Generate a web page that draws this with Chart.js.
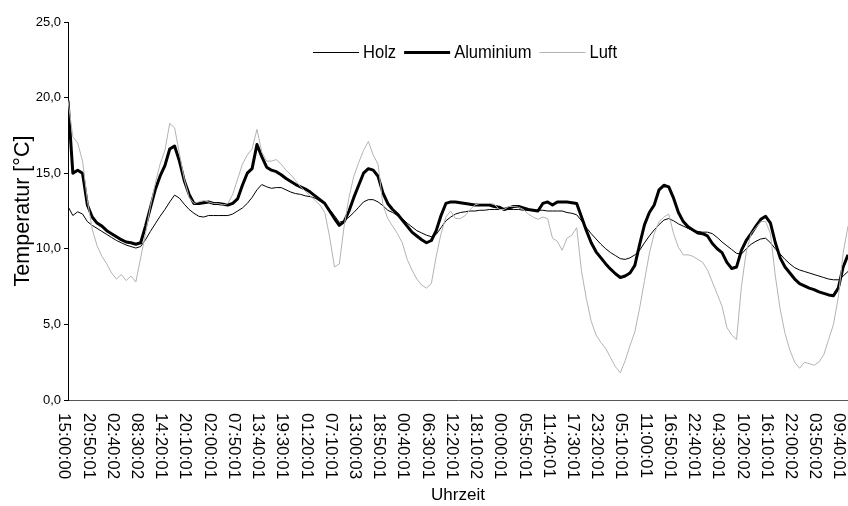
<!DOCTYPE html>
<html>
<head>
<meta charset="utf-8">
<script src="https://cdn.jsdelivr.net/npm/chart.js@4"></script>
<style>
  html, body { margin: 0; padding: 0; background: #fff; }
  #wrap { width: 848px; height: 506px; position: relative; }
</style>
</head>
<body>
<div id="wrap"><canvas id="chart"></canvas></div>
<script>
// ============================================================
// Temperaturverlauf Holz / Aluminium / Luft
// ============================================================

// Time labels under the axis (one every 5 samples, 5h50 apart)
const timeLabels = [
  "15:00:00", "20:50:01", "02:40:02", "08:30:02", "14:20:01", "20:10:01",
  "02:00:01", "07:50:01", "13:40:01", "19:30:01", "01:20:01", "07:10:01",
  "13:00:03", "18:50:01", "00:40:01", "06:30:01", "12:20:01", "18:10:02",
  "00:00:01", "05:50:01", "11:40:01", "17:30:01", "23:20:01", "05:10:01",
  "11:00:01", "16:50:01", "22:40:01", "04:30:01", "10:20:02", "16:10:01",
  "22:00:02", "03:50:02", "09:40:01"
];
const samplesPerLabel = 5;

// y axis
const yMin = 0;
const yMax = 25;
const yStep = 5;

// Series values (°C), one sample every 70 minutes
const holz = [
  12.8, 12.2, 12.45, 12.3, 11.8, 11.55, 11.35, 11.15, 10.95, 10.75,
  10.55, 10.4, 10.25, 10.15, 10.05, 10.15, 10.6, 11.15, 11.65, 12.15,
  12.6, 13.1, 13.55, 13.35, 12.95, 12.6, 12.35, 12.15, 12.1, 12.2,
  12.2, 12.2, 12.2, 12.2, 12.3, 12.5, 12.7, 13.0, 13.4, 13.9,
  14.25, 14.1, 14.0, 14.05, 14.05, 13.9, 13.75, 13.65, 13.6, 13.5,
  13.45, 13.35, 13.15, 12.95, 12.6, 12.2, 11.75, 11.85, 12.1, 12.4,
  12.75, 13.1, 13.25, 13.25, 13.1, 12.85, 12.55, 12.4, 12.2, 12.0,
  11.7, 11.45, 11.2, 11.05, 10.9, 10.8, 10.95, 11.4, 11.85, 12.1,
  12.3, 12.4, 12.45, 12.5, 12.5, 12.55, 12.55, 12.6, 12.6, 12.6,
  12.6, 12.6, 12.6, 12.6, 12.55, 12.55, 12.55, 12.55, 12.55, 12.5,
  12.5, 12.5, 12.5, 12.4, 12.35, 12.25, 11.85, 11.4, 11.0, 10.65,
  10.3, 10.0, 9.75, 9.55, 9.35, 9.3, 9.4, 9.6, 9.9, 10.4,
  10.85, 11.25, 11.6, 11.9, 12.0, 11.85, 11.65, 11.5, 11.35, 11.2,
  11.15, 11.1, 11.1, 11.0, 10.75, 10.45, 10.2, 9.95, 9.7, 9.65,
  10.0, 10.3, 10.5, 10.65, 10.7, 10.4, 10.0, 9.65, 9.3, 9.0,
  8.75, 8.6, 8.5, 8.4, 8.3, 8.2, 8.1, 8.0, 7.95, 7.95,
  8.2, 8.5
];

const aluminium = [
  19.8, 15.0, 15.2, 15.0, 12.9, 12.1, 11.7, 11.5, 11.2, 11.0,
  10.8, 10.6, 10.45, 10.4, 10.3, 10.4, 11.5, 12.7, 13.9, 14.8,
  15.5, 16.6, 16.8, 15.8, 14.5, 13.6, 13.0, 13.0, 13.05, 13.1,
  13.0, 13.0, 12.95, 12.9, 13.0, 13.3, 14.2, 15.0, 15.3, 16.9,
  16.1, 15.4, 15.2, 15.1, 14.9, 14.65, 14.45, 14.25, 14.1, 13.95,
  13.75, 13.5, 13.25, 13.0, 12.5, 12.0, 11.55, 11.8, 12.5, 13.4,
  14.2, 15.0, 15.3, 15.2, 14.8, 13.7, 13.0, 12.6, 12.3, 11.9,
  11.5, 11.1, 10.85, 10.6, 10.4, 10.55, 11.2, 12.2, 13.0, 13.1,
  13.1, 13.05, 13.0, 12.95, 12.9, 12.9, 12.9, 12.9, 12.8, 12.75,
  12.6, 12.7, 12.8, 12.8, 12.7, 12.6, 12.55, 12.5, 13.0, 13.1,
  12.9, 13.1, 13.1, 13.1, 13.05, 13.0, 12.1, 11.2, 10.4, 9.8,
  9.4, 9.0, 8.65, 8.35, 8.1, 8.2, 8.4, 8.9, 10.3, 11.6,
  12.4, 12.9, 13.9, 14.2, 14.1, 13.35, 12.4, 11.8, 11.45, 11.25,
  11.05, 11.0, 10.85, 10.35, 10.0, 9.75, 9.1, 8.7, 8.8, 9.9,
  10.55, 11.0, 11.5, 11.95, 12.15, 11.7, 10.4, 9.4, 8.8, 8.4,
  8.0, 7.7, 7.55, 7.4, 7.3, 7.15, 7.05, 6.95, 6.9, 7.4,
  8.8, 9.6
];

const luft = [
  19.8, 17.4, 17.0, 15.8, 13.2, 11.3, 10.2, 9.5, 9.0, 8.4,
  8.0, 8.3, 7.9, 8.2, 7.8, 9.4, 11.0, 12.8, 14.3, 15.6,
  16.5, 18.3, 18.0, 16.3, 14.6, 13.4, 13.0, 13.1, 13.2, 13.1,
  13.0, 13.0, 12.9, 13.0, 13.6, 14.6, 15.6, 16.2, 16.6, 17.9,
  16.4, 15.8, 15.8, 15.9, 15.6, 15.2, 14.9, 14.5, 14.1, 13.8,
  13.5, 13.2, 12.9, 12.4, 10.8, 8.8, 9.0, 11.5, 13.4, 14.8,
  15.7, 16.5, 17.1, 16.2, 15.6, 12.9, 12.0, 11.5, 11.0, 10.4,
  9.3, 8.6, 8.0, 7.6, 7.4, 7.7, 9.5, 11.0, 12.1, 12.5,
  12.0, 12.0, 12.2, 12.6, 12.9, 13.0, 13.0, 13.0, 12.95, 12.6,
  12.6, 12.8, 12.8, 12.75, 12.6, 12.3, 12.1, 11.95, 12.1, 12.0,
  10.7, 10.5, 9.9, 10.7, 10.9, 11.4, 8.5, 6.7, 5.2, 4.3,
  3.8, 3.4, 2.8, 2.2, 1.8, 2.6, 3.6, 4.5, 6.1, 7.9,
  9.7, 11.0, 11.8, 12.1, 12.3, 11.0, 10.1, 9.6, 9.6, 9.5,
  9.3, 9.1, 8.6, 7.8, 7.0, 6.2, 4.8, 4.3, 4.0, 7.5,
  9.8, 11.0, 11.4, 11.8, 11.8, 11.0, 8.2, 6.0, 4.4, 3.3,
  2.5, 2.1, 2.5, 2.4, 2.3, 2.5, 3.0, 4.0, 5.0, 6.8,
  9.7, 11.5
];

const fontFamily = "'Liberation Sans', Arial, sans-serif";

// Rotated time labels, reading top to bottom (as in the original)
const timeLabelPlugin = {
  id: "timeLabels",
  afterDraw(chart) {
    const { ctx } = chart;
    const x = chart.scales.x;
    ctx.save();
    ctx.font = "17px " + fontFamily;
    ctx.fillStyle = "#000";
    ctx.textAlign = "left";
    ctx.textBaseline = "middle";
    timeLabels.forEach((t, k) => {
      const px = x.getPixelForValue(k * samplesPerLabel) - 4;
      ctx.save();
      ctx.translate(px, x.top + 13);
      ctx.rotate(Math.PI / 2);
      ctx.fillText(t, 0, 0);
      ctx.restore();
    });
    ctx.restore();
  }
};

// Legend inside the plot, line samples + slightly condensed text
const lineLegendPlugin = {
  id: "lineLegend",
  afterDraw(chart) {
    const { ctx } = chart;
    const y = 53;
    let x = 313;
    ctx.save();
    ctx.font = "18px " + fontFamily;
    ctx.textBaseline = "middle";
    ctx.fillStyle = "#000";
    chart.data.datasets.forEach(ds => {
      ctx.beginPath();
      ctx.strokeStyle = ds.borderColor;
      ctx.lineWidth = ds.borderWidth;
      ctx.moveTo(x, y - 0.5);
      ctx.lineTo(x + 46, y - 0.5);
      ctx.stroke();
      const w = ctx.measureText(ds.label).width * 0.92;
      ctx.save();
      ctx.translate(x + 50, y);
      ctx.scale(0.92, 1);
      ctx.fillText(ds.label, 0, 0);
      ctx.restore();
      x += 50 + w + 8;
    });
    ctx.restore();
  }
};

new Chart(document.getElementById("chart"), {
  type: "line",
  data: {
    labels: holz.map((_, i) => i),
    datasets: [
      { label: "Holz", data: holz, borderColor: "#000", borderWidth: 1, order: 1 },
      { label: "Aluminium", data: aluminium, borderColor: "#000", borderWidth: 3, order: 2 },
      { label: "Luft", data: luft, borderColor: "#b3b3b3", borderWidth: 1, order: 0 }
    ]
  },
  options: {
    responsive: true,
    maintainAspectRatio: false,
    animation: false,
    devicePixelRatio: 1,
    layout: { padding: { top: 22, right: 0, bottom: 0, left: 0 } },
    elements: {
      point: { radius: 0 },
      line: { tension: 0, borderJoinStyle: "round", fill: false }
    },
    plugins: {
      legend: { display: false },
      tooltip: { enabled: false }
    },
    scales: {
      x: {
        type: "linear",
        min: 0,
        max: holz.length - 1,
        grid: { display: false },
        border: { display: true, color: "#555", width: 1 },
        ticks: { display: false },
        title: {
          display: true, text: "Uhrzeit", color: "#000",
          font: { family: fontFamily, size: 17 },
          padding: { top: 0, bottom: 0 }
        },
        afterFit: s => { s.height = 106; }
      },
      y: {
        min: yMin,
        max: yMax,
        grid: { drawOnChartArea: false, drawTicks: true, tickLength: 4, color: "#000" },
        border: { display: true, color: "#000", width: 1 },
        ticks: {
          stepSize: yStep,
          color: "#000",
          padding: 3,
          font: { family: fontFamily, size: 13 },
          callback: v => v.toFixed(1).replace(".", ",")
        },
        title: {
          display: true, text: "Temperatur [°C]", color: "#000",
          font: { family: fontFamily, size: 21.5 },
          padding: { top: 10, bottom: 0 }
        },
        afterFit: s => { s.width = 68; }
      }
    }
  },
  plugins: [timeLabelPlugin, lineLegendPlugin]
});
</script>
</body>
</html>
